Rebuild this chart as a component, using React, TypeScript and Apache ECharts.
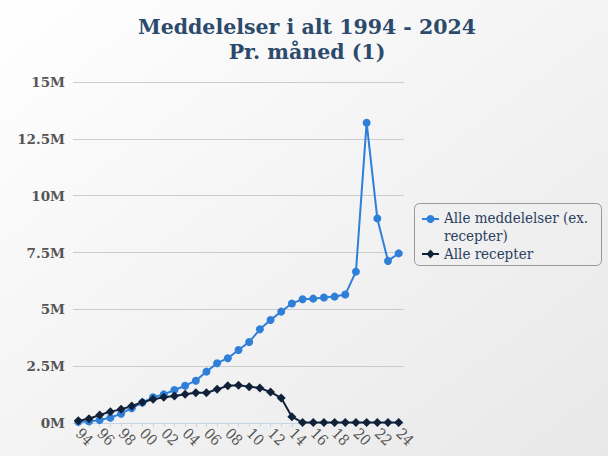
import React, { useEffect, useRef } from "react";
import * as echarts from "echarts";

const years: string[] = [
  "94", "95", "96", "97", "98", "99", "00", "01", "02", "03", "04", "05", "06", "07", "08", "09",
  "10", "11", "12", "13", "14", "15", "16", "17", "18", "19", "20", "21", "22", "23", "24",
];

const alleMeddelelser: number[] = [
  0.05, 0.07, 0.13, 0.23, 0.41, 0.65, 0.9, 1.13, 1.26, 1.45, 1.64, 1.86, 2.26, 2.63, 2.85, 3.21,
  3.56, 4.12, 4.53, 4.9, 5.26, 5.44, 5.47, 5.52, 5.56, 5.65, 6.66, 13.21, 9.0, 7.13, 7.46,
].map((v) => v * 1e6);

const alleRecepter: number[] = [
  0.1, 0.19, 0.35, 0.5, 0.6, 0.75, 0.91, 1.04, 1.13, 1.19, 1.26, 1.33, 1.33, 1.48, 1.64, 1.66,
  1.6, 1.54, 1.36, 1.1, 0.28, 0.02, 0.02, 0.02, 0.02, 0.02, 0.02, 0.02, 0.02, 0.02, 0.02,
].map((v) => v * 1e6);

const seriesNames: string[] = ["Alle meddelelser (ex.\nrecepter)", "Alle recepter"];
const seriesColors: string[] = ["#2f7fd9", "#10223a"];
const titleText = "Meddelelser i alt 1994 - 2024\nPr. måned (1)";

const serif = "'DejaVu Serif', serif";
const serifRegular = "'DejaVu Serif Condensed', 'Liberation Serif', 'DejaVu Serif', serif";

export default function App() {
  const ref = useRef<HTMLDivElement>(null);
  useEffect(() => {
    if (!ref.current) return;
    const chart = echarts.init(ref.current, undefined, { renderer: "svg" });
    const legendTextStyle = {
      fontFamily: serifRegular,
      fontSize: 15,
      lineHeight: 18,
      fill: "#2a3f5f",
      verticalAlign: "top",
      align: "left",
    };
    const legendGraphic = {
      type: "group",
      left: 414,
      top: 203,
      children: [
        {
          type: "rect",
          shape: { x: 0.5, y: 0.5, width: 187, height: 62, r: 5 },
          style: { fill: "rgba(240,240,240,0.5)", stroke: "#999", lineWidth: 1 },
        },
        {
          type: "line",
          shape: { x1: 8, y1: 16, x2: 25, y2: 16 },
          style: { stroke: seriesColors[0], lineWidth: 2 },
        },
        {
          type: "circle",
          shape: { cx: 16.5, cy: 16, r: 4 },
          style: { fill: seriesColors[0] },
        },
        {
          type: "text",
          x: 30,
          y: 6,
          style: { ...legendTextStyle, text: seriesNames[0] },
        },
        {
          type: "line",
          shape: { x1: 8, y1: 51, x2: 25, y2: 51 },
          style: { stroke: seriesColors[1], lineWidth: 2 },
        },
        {
          type: "polygon",
          shape: { points: [[16.5, 46.5], [20.5, 51], [16.5, 55.5], [12.5, 51]] },
          style: { fill: seriesColors[1] },
        },
        {
          type: "text",
          x: 30,
          y: 42,
          style: { ...legendTextStyle, text: seriesNames[1] },
        },
      ],
    };
    chart.setOption({
      animation: false,
      textStyle: { fontFamily: serif },
      backgroundColor: new echarts.graphic.LinearGradient(0, 0, 1, 1, [
        { offset: 0, color: "#ffffff" },
        { offset: 1, color: "#e8e8e8" },
      ]),
      title: {
        text: titleText,
        left: 302,
        textAlign: "center",
        top: 9,
        textStyle: {
          fontFamily: serif,
          fontWeight: "bold",
          fontSize: 20.5,
          lineHeight: 25,
          color: "#2b4a6c",
        },
      },
      graphic: [legendGraphic],
      grid: {
        left: 73,
        top: 82,
        width: 331,
        height: 341,
        containLabel: false,
      },
      xAxis: {
        type: "category",
        data: years,
        boundaryGap: true,
        axisLine: { lineStyle: { color: "#c5d5e6", width: 1 } },
        axisTick: { show: true, alignWithLabel: true, interval: 0, length: 4, lineStyle: { color: "#c5d5e6" } },
        axisLabel: {
          interval: 1,
          rotate: -45,
          fontFamily: serifRegular,
          fontSize: 15,
          color: "#555",
          margin: 8,
        },
        splitLine: { show: false },
      },
      yAxis: {
        type: "value",
        min: 0,
        max: 15e6,
        interval: 2.5e6,
        axisLine: { show: false },
        axisTick: { show: false },
        axisLabel: {
          fontFamily: serif,
          fontWeight: "bold",
          fontSize: 13.5,
          color: "#555",
          margin: 8,
          formatter: (v: number) => `${v / 1e6}M`,
        },
        splitLine: { lineStyle: { color: "#cccccc", width: 1 } },
      },
      series: [
        {
          name: seriesNames[0],
          type: "line",
          data: alleMeddelelser,
          symbol: "circle",
          symbolSize: 8,
          showAllSymbol: true,
          color: seriesColors[0],
          lineStyle: { width: 2, color: seriesColors[0] },
          itemStyle: { color: seriesColors[0] },
        },
        {
          name: seriesNames[1],
          type: "line",
          data: alleRecepter,
          symbol: "diamond",
          symbolSize: 9,
          showAllSymbol: true,
          color: seriesColors[1],
          lineStyle: { width: 2, color: seriesColors[1] },
          itemStyle: { color: seriesColors[1] },
        },
      ],
    });
    return () => chart.dispose();
  }, []);
  return (
    <div
      ref={ref}
      style={{ position: "absolute", left: 0, top: 0, width: 608, height: 456 }}
    />
  );
}
